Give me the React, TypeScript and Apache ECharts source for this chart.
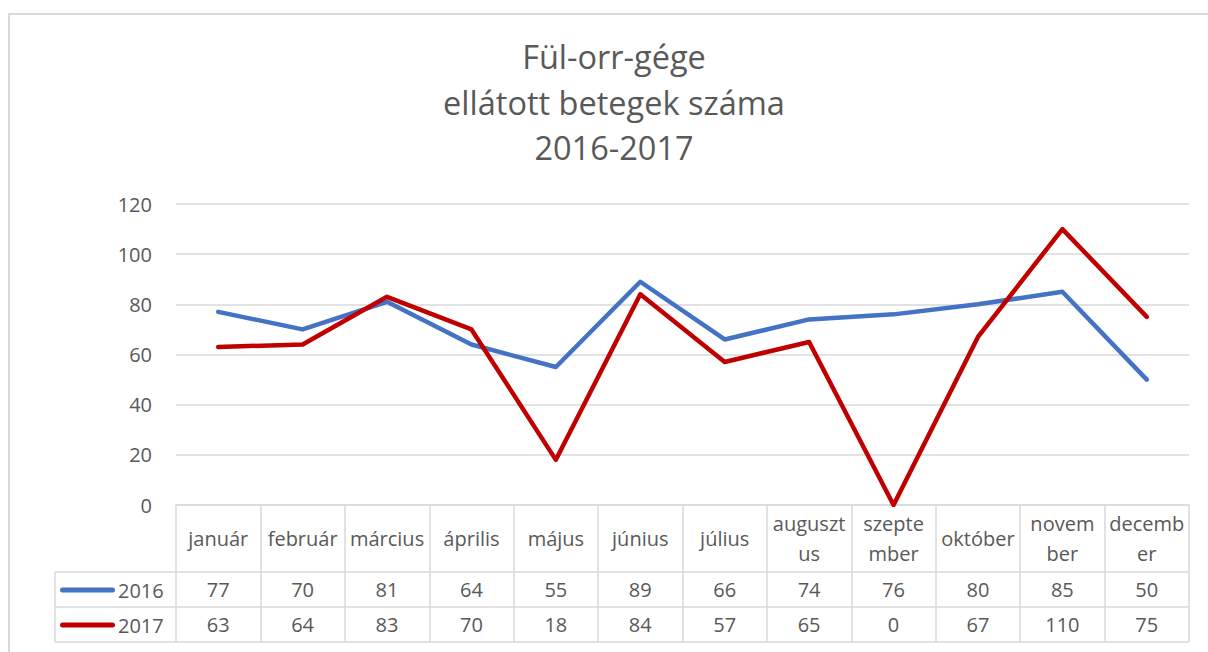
import React, { useEffect, useRef } from "react";
import * as echarts from "echarts";

const titleLines = ["Fül-orr-gége", "ellátott betegek száma", "2016-2017"];
const months = [
  "január", "február", "március", "április", "május", "június",
  "július", "auguszt\nus", "szepte\nmber", "október", "novem\nber", "decemb\ner",
];
const seriesNames = ["2016", "2017"];
const values2016 = [77, 70, 81, 64, 55, 89, 66, 74, 76, 80, 85, 50];
const values2017 = [63, 64, 83, 70, 18, 84, 57, 65, 0, 67, 110, 75];
const yMin = 0;
const yMax = 120;
const yInterval = 20;

const W = 1208;
const H = 652;
const FONT = "'Open Sans', 'Noto Sans', sans-serif";
const TXT = "#595959";
const GRID = "#d9d9d9";
const BLUE = "#4472C4";
const RED = "#C00000";

export default function App() {
  const ref = useRef<HTMLDivElement>(null);
  useEffect(() => {
    document.body.style.margin = "0";
    if (!ref.current) return;
    const chart = echarts.init(ref.current, undefined, { renderer: "svg" });
    const gLeft = 176, gRight = 19, gTop = 204, gBottom = 147;
    const axisY = H - gBottom;
    const row1 = axisY + 67;
    const row2 = row1 + 35;
    const row3 = row2 + 35;
    const tableLeft = 55;
    const tableRight = W - gRight;
    const lineStyle = { stroke: GRID, lineWidth: 1.5 };
    const capsule = "path://M2.5,0 L52.5,0 A2.5,2.5 0 0 1 52.5,5 L2.5,5 A2.5,2.5 0 0 1 2.5,0 Z";

    const valueAxis = (vals: number[], margin: number) => ({
      type: "category",
      data: months,
      position: "bottom",
      gridIndex: 0,
      axisLine: { show: false, onZero: false },
      axisTick: { show: false },
      splitLine: { show: false },
      axisLabel: {
        interval: 0,
        margin,
        verticalAlign: "middle",
        fontSize: 20,
        fontFamily: FONT,
        color: TXT,
        formatter: (_v: string, i: number) => String(vals[i]),
      },
    });

    chart.setOption({
      animation: false,
      backgroundColor: "#ffffff",
      title: {
        text: titleLines.join("\n"),
        left: 614,
        textAlign: "center",
        top: 34,
        padding: 0,
        textStyle: {
          fontSize: 32.5,
          fontWeight: "normal",
          color: TXT,
          fontFamily: FONT,
          lineHeight: 45.5,
        },
      },
      legend: {
        orient: "vertical",
        left: 60,
        top: 580,
        padding: 0,
        itemGap: 15,
        itemWidth: 55,
        itemHeight: 5,
        icon: capsule,
        data: seriesNames,
        textStyle: { fontSize: 20, fontFamily: FONT, color: TXT, lineHeight: 20, padding: [0, 0, 0, -2] },
      },
      grid: { left: gLeft, right: gRight, top: gTop, bottom: gBottom, containLabel: false },
      xAxis: [
        {
          type: "category",
          data: months,
          boundaryGap: true,
          axisLine: { show: true, lineStyle: { color: GRID, width: 1.5 } },
          axisTick: { show: true, length: row3 - axisY, lineStyle: { color: GRID, width: 1.5 } },
          axisLabel: {
            interval: 0,
            margin: 33,
            verticalAlign: "middle",
            fontSize: 20,
            lineHeight: 30,
            fontFamily: FONT,
            color: TXT,
          },
        },
        valueAxis(values2016, row1 - axisY + 17.5),
        valueAxis(values2017, row2 - axisY + 17.5),
      ],
      yAxis: {
        type: "value",
        min: yMin,
        max: yMax,
        interval: yInterval,
        axisLine: { show: false },
        axisTick: { show: false },
        axisLabel: { fontSize: 20, fontFamily: FONT, color: TXT, margin: 24 },
        splitLine: { lineStyle: { color: GRID, width: 1.5 } },
      },
      series: [
        {
          name: seriesNames[0],
          type: "line",
          data: values2016,
          symbol: "none",
          color: BLUE,
          lineStyle: { color: BLUE, width: 4.5, cap: "round", join: "round" },
        },
        {
          name: seriesNames[1],
          type: "line",
          data: values2017,
          symbol: "none",
          color: RED,
          lineStyle: { color: RED, width: 4.5, cap: "round", join: "round" },
        },
      ],
      graphic: [
        { type: "rect", shape: { x: 9, y: 14, width: 1300, height: 800 }, style: { fill: "none", stroke: GRID, lineWidth: 2 }, silent: true },
        { type: "line", shape: { x1: tableLeft, y1: row1, x2: tableRight, y2: row1 }, style: lineStyle },
        { type: "line", shape: { x1: tableLeft, y1: row2, x2: tableRight, y2: row2 }, style: lineStyle },
        { type: "line", shape: { x1: tableLeft, y1: row3, x2: tableRight, y2: row3 }, style: lineStyle },
        { type: "line", shape: { x1: tableLeft, y1: row1, x2: tableLeft, y2: row3 }, style: lineStyle },
      ],
    });
    return () => chart.dispose();
  }, []);
  return <div ref={ref} style={{ position: "absolute", left: 0, top: 0, width: W, height: H }} />;
}
